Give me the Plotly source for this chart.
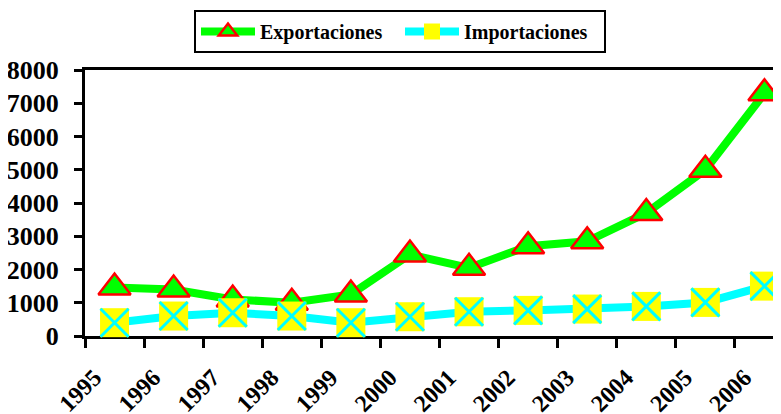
import plotly.graph_objects as go

years = ["1995", "1996", "1997", "1998", "1999", "2000",
         "2001", "2002", "2003", "2004", "2005", "2006"]
exportaciones = [1460, 1400, 1100, 1000, 1250, 2450, 2050, 2700, 2850, 3700, 5000, 7300]
importaciones = [400, 600, 700, 600, 400, 580, 730, 770, 810, 890, 1010, 1500]

FONT = "serif"

# page body has an 8px margin: lay the figure out relative to (8, 8)
OFF = 8
W, H = 781 - OFF, 414 - OFF

fig = go.Figure()
fig.add_trace(go.Scatter(
    x=years, y=exportaciones, name="Exportaciones", mode="lines+markers",
    line=dict(color="#00FF00", width=8),
    marker=dict(symbol="triangle-up", size=28, color="#00FF00",
                line=dict(color="#FF0000", width=2.5)),
    cliponaxis=False,
))
fig.add_trace(go.Scatter(
    x=years, y=importaciones, name="Importaciones", mode="lines+markers",
    line=dict(color="#00FFFF", width=8),
    marker=dict(symbol="square", size=29, color="#FFFF00", line=dict(width=0)),
    cliponaxis=False,
))
fig.add_trace(go.Scatter(
    x=years, y=importaciones, mode="markers", showlegend=False,
    marker=dict(symbol="x-thin", size=28, color="#00FFFF",
                line=dict(color="#00FFFF", width=3)),
    cliponaxis=False, hoverinfo="skip",
))

fig.update_layout(
    width=W, height=H,
    margin=dict(l=85 - OFF, r=0, t=70 - OFF, b=414 - 336, autoexpand=False),
    paper_bgcolor="white", plot_bgcolor="white",
    font=dict(family=FONT, color="black"),
    showlegend=True,
    legend=dict(
        orientation="h", xref="container", yref="container",
        x=(400 - OFF) / W, xanchor="center", y=1 - (10 - OFF) / H, yanchor="top",
        bordercolor="black", borderwidth=2, bgcolor="white",
        entrywidth=135, itemwidth=54,
        font=dict(family=FONT, size=20, weight="bold", color="black"),
    ),
)
fig.update_xaxes(
    type="category", range=[-0.5, 11.28], automargin=False,
    tickson="boundaries", ticks="outside", ticklen=9, tickwidth=3, tickcolor="black",
    showline=True, linewidth=3, linecolor="black", mirror=True,
    showgrid=False, zeroline=False, layer="below traces",
    tickangle=-45, ticklabelstandoff=15, ticklabelshift=-20,
    tickfont=dict(family=FONT, size=24, weight="bold", color="black"),
)
fig.update_yaxes(
    range=[0, 8000], tickvals=list(range(0, 8001, 1000)), automargin=False,
    ticks="outside", ticklen=8, tickwidth=3, tickcolor="black",
    showline=True, linewidth=3, linecolor="black",
    showgrid=False, zeroline=False, layer="below traces",
    ticklabelstandoff=10,
    tickfont=dict(family=FONT, size=26, weight="bold", color="black"),
)

fig.write_html("out.html")
